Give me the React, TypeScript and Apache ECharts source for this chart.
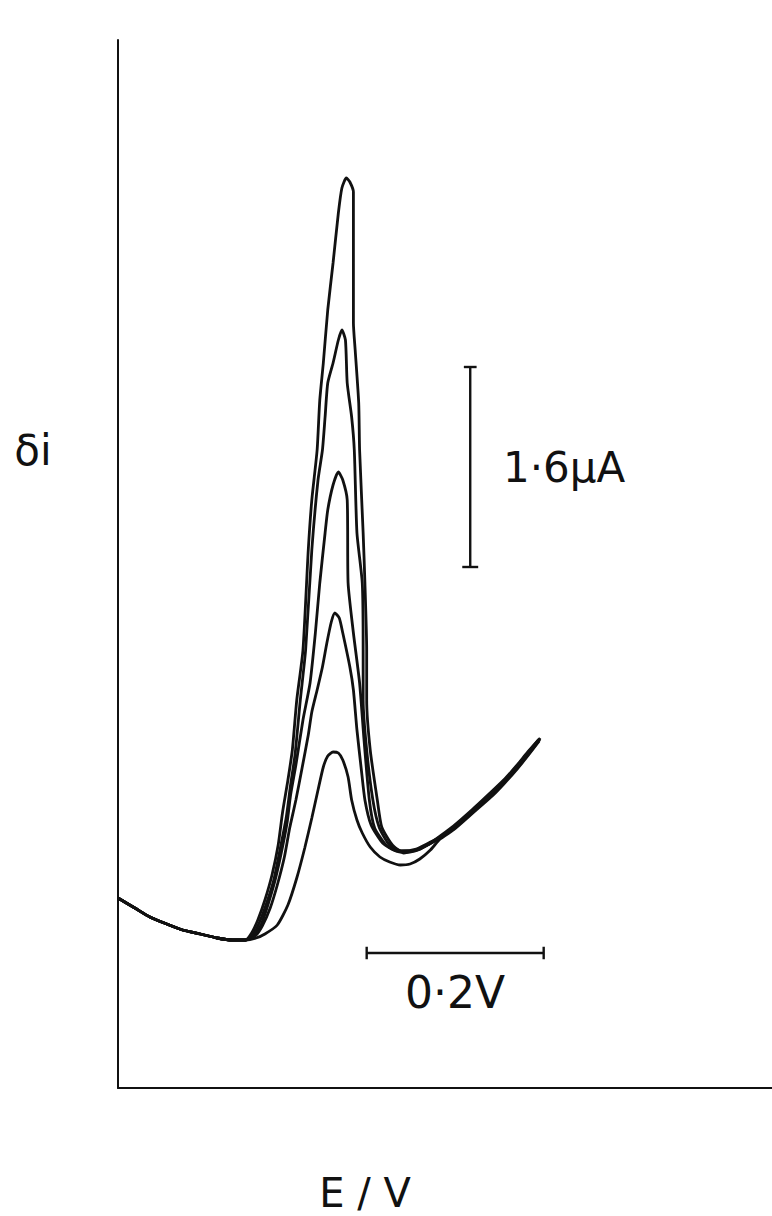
import React, { useEffect, useRef } from "react";
import * as echarts from "echarts";

// Shared cathodic-side baseline of every sweep: [E / V, δi / μA]
const baseline: [number, number][] = [
  [0, 0.336], [0.019, 0.256], [0.036, 0.184], [0.055, 0.128], [0.073, 0.08],
  [0.093, 0.048], [0.112, 0.016], [0.129, 0], [0.144, 0],
];

// Differential pulse sweeps, smallest to largest peak
const sweep1: [number, number][] = [
  [0.156, 0.016], [0.166, 0.048], [0.18, 0.12], [0.192, 0.28], [0.202, 0.496],
  [0.211, 0.736], [0.219, 0.976], [0.226, 1.2], [0.232, 1.384], [0.237, 1.472],
  [0.243, 1.504], [0.249, 1.496], [0.254, 1.44], [0.26, 1.304], [0.264, 1.12],
  [0.27, 0.96], [0.276, 0.856], [0.285, 0.744], [0.296, 0.664], [0.307, 0.624],
  [0.319, 0.6], [0.33, 0.608], [0.341, 0.648], [0.353, 0.72], [0.364, 0.808],
  [0.379, 0.88], [0.401, 1.016], [0.424, 1.16], [0.437, 1.256], [0.451, 1.368],
  [0.463, 1.472], [0.476, 1.592],
];
const sweep2: [number, number][] = [
  [0.155, 0.032], [0.163, 0.112], [0.172, 0.256], [0.18, 0.44], [0.188, 0.664],
  [0.194, 0.896], [0.201, 1.12], [0.208, 1.376], [0.215, 1.64], [0.219, 1.824],
  [0.225, 2.0], [0.231, 2.184], [0.236, 2.376], [0.241, 2.544], [0.245, 2.616],
  [0.25, 2.576], [0.254, 2.456], [0.262, 2.184], [0.266, 2.0], [0.27, 1.68],
  [0.275, 1.36], [0.279, 1.12], [0.286, 0.92], [0.299, 0.776], [0.315, 0.712],
  [0.331, 0.712], [0.347, 0.752], [0.364, 0.816], [0.379, 0.888], [0.401, 1.024],
  [0.424, 1.176], [0.437, 1.272], [0.451, 1.376], [0.463, 1.48], [0.477, 1.608],
];
const sweep3: [number, number][] = [
  [0.154, 0.04], [0.162, 0.128], [0.169, 0.272], [0.177, 0.464], [0.184, 0.68],
  [0.191, 0.936], [0.195, 1.16], [0.201, 1.4], [0.209, 1.76], [0.217, 2.056],
  [0.223, 2.456], [0.228, 2.856], [0.234, 3.256], [0.237, 3.44], [0.243, 3.64],
  [0.249, 3.744], [0.254, 3.68], [0.259, 3.52], [0.26, 2.856], [0.266, 2.456],
  [0.273, 2.056], [0.278, 1.6], [0.284, 1.12], [0.29, 0.896], [0.303, 0.76],
  [0.319, 0.704], [0.334, 0.712], [0.35, 0.76], [0.364, 0.824], [0.379, 0.896],
  [0.401, 1.032], [0.424, 1.184], [0.437, 1.28], [0.451, 1.384], [0.463, 1.488],
  [0.477, 1.616],
];
const sweep4: [number, number][] = [
  [0.153, 0.048], [0.16, 0.144], [0.168, 0.296], [0.176, 0.48], [0.183, 0.72],
  [0.19, 0.976], [0.195, 1.24], [0.2, 1.48], [0.206, 1.92], [0.212, 2.32],
  [0.219, 3.12], [0.226, 3.68], [0.231, 3.92], [0.234, 4.184], [0.237, 4.456],
  [0.243, 4.616], [0.249, 4.8], [0.253, 4.88], [0.257, 4.8], [0.259, 4.456],
  [0.264, 4.184], [0.267, 3.92], [0.27, 3.256], [0.276, 2.856], [0.277, 2.32],
  [0.277, 1.92], [0.281, 1.52], [0.288, 1.12], [0.295, 0.904], [0.306, 0.768],
  [0.321, 0.712], [0.337, 0.728], [0.351, 0.776], [0.364, 0.824], [0.379, 0.904],
  [0.401, 1.04], [0.424, 1.192], [0.437, 1.28], [0.451, 1.392], [0.463, 1.496],
  [0.476, 1.608],
];
const sweep5: [number, number][] = [
  [0.151, 0.056], [0.158, 0.16], [0.166, 0.32], [0.174, 0.52], [0.181, 0.76],
  [0.186, 1.024], [0.192, 1.28], [0.197, 1.52], [0.202, 1.92], [0.209, 2.32],
  [0.215, 3.12], [0.219, 3.52], [0.225, 3.92], [0.228, 4.32], [0.232, 4.616],
  [0.237, 5.04], [0.243, 5.416], [0.249, 5.816], [0.253, 6.016], [0.258, 6.096],
  [0.262, 6.064], [0.266, 5.984], [0.266, 5.52], [0.266, 4.936], [0.268, 4.72],
  [0.272, 4.296], [0.273, 3.92], [0.277, 3.256], [0.279, 2.856], [0.281, 2.32],
  [0.281, 1.92], [0.285, 1.52], [0.293, 1.12], [0.298, 0.904], [0.31, 0.76],
  [0.323, 0.696], [0.339, 0.72], [0.353, 0.776], [0.364, 0.832], [0.379, 0.912],
  [0.401, 1.048], [0.424, 1.2], [0.437, 1.288], [0.451, 1.4], [0.463, 1.504],
  [0.475, 1.6],
];
const sweeps = [sweep1, sweep2, sweep3, sweep4, sweep5];

// Scale bars: 1.6 μA (vertical) and 0.2 V (horizontal)
const currentBarE = 0.398;
const currentBarI: [number, number] = [2.984, 4.584];
const potentialBarI = -0.104;
const potentialBarE: [number, number] = [0.281, 0.481];

const axisLabels = { y: "δi", x: "E / V" };
const barLabels = { current: "1·6μA", potential: "0·2V" };

const W = 772;
const H = 1216;
const GRID_LEFT = 118;
const GRID_TOP = 40;
const GRID_BOTTOM_Y = 1088;
const PX_PER_V = 885;
const PX_PER_UA = 125;
const ZERO_Y = 940;

export default function App() {
  const ref = useRef<HTMLDivElement>(null);

  useEffect(() => {
    if (!ref.current) return;
    const chart = echarts.init(ref.current, undefined, { renderer: "svg" });
    const ink = "#111";
    const traceStyle = { color: ink, width: 2.8 };
    const barStyle = { color: ink, width: 2.4 };
    const capE = 0.009;
    const capI = 0.05;

    const line = (data: [number, number][], style = traceStyle, smooth: number | boolean = 0.2) => ({
      type: "line",
      data,
      symbol: "none",
      smooth,
      lineStyle: style,
      silent: true,
      z: 3,
    });

    const series: any[] = sweeps.map((s) => line([...baseline, ...s]));
    // vertical 1.6 μA bar with end caps
    series.push(line([[currentBarE, currentBarI[0]], [currentBarE, currentBarI[1]]], barStyle, false));
    series.push(line([[currentBarE - capE, currentBarI[0]], [currentBarE + capE, currentBarI[0]]], barStyle, false));
    series.push(line([[currentBarE - capE * 0.8, currentBarI[1]], [currentBarE + capE * 0.8, currentBarI[1]]], barStyle, false));
    // horizontal 0.2 V bar with end caps
    series.push(line([[potentialBarE[0], potentialBarI], [potentialBarE[1], potentialBarI]], barStyle, false));
    series.push(line([[potentialBarE[0], potentialBarI - capI], [potentialBarE[0], potentialBarI + capI]], barStyle, false));
    series.push(line([[potentialBarE[1], potentialBarI - capI], [potentialBarE[1], potentialBarI + capI]], barStyle, false));

    const font = "DejaVu Sans";
    chart.setOption({
      animation: false,
      backgroundColor: "#fff",
      grid: {
        left: GRID_LEFT,
        right: 0,
        top: GRID_TOP,
        bottom: H - GRID_BOTTOM_Y,
        containLabel: false,
      },
      xAxis: {
        type: "value",
        min: 0,
        max: (W - GRID_LEFT) / PX_PER_V,
        axisLine: { show: true, onZero: false, lineStyle: { color: ink, width: 2 } },
        axisTick: { show: false },
        axisLabel: { show: false },
        splitLine: { show: false },
      },
      yAxis: {
        type: "value",
        min: (ZERO_Y - GRID_BOTTOM_Y) / PX_PER_UA,
        max: (ZERO_Y - GRID_TOP) / PX_PER_UA,
        axisLine: { show: true, onZero: false, lineStyle: { color: ink, width: 2 } },
        axisTick: { show: false },
        axisLabel: { show: false },
        splitLine: { show: false },
      },
      series,
      graphic: [
        {
          type: "text",
          x: 33,
          y: 450,
          style: { text: axisLabels.y, fontSize: 42, fontFamily: font, fill: ink, align: "center", verticalAlign: "middle" },
        },
        {
          type: "text",
          x: 365,
          y: 1193,
          style: { text: axisLabels.x, fontSize: 40, fontFamily: font, fill: ink, align: "center", verticalAlign: "middle" },
        },
        {
          type: "text",
          x: 503,
          y: 467,
          style: { text: barLabels.current, fontSize: 42, fontFamily: font, fill: ink, align: "left", verticalAlign: "middle" },
        },
        {
          type: "text",
          x: 455,
          y: 992,
          style: { text: barLabels.potential, fontSize: 44, fontFamily: font, fill: ink, align: "center", verticalAlign: "middle" },
        },
      ],
    });
    return () => chart.dispose();
  }, []);

  return <div ref={ref} style={{ position: "absolute", left: 0, top: 0, width: W, height: H }} />;
}
